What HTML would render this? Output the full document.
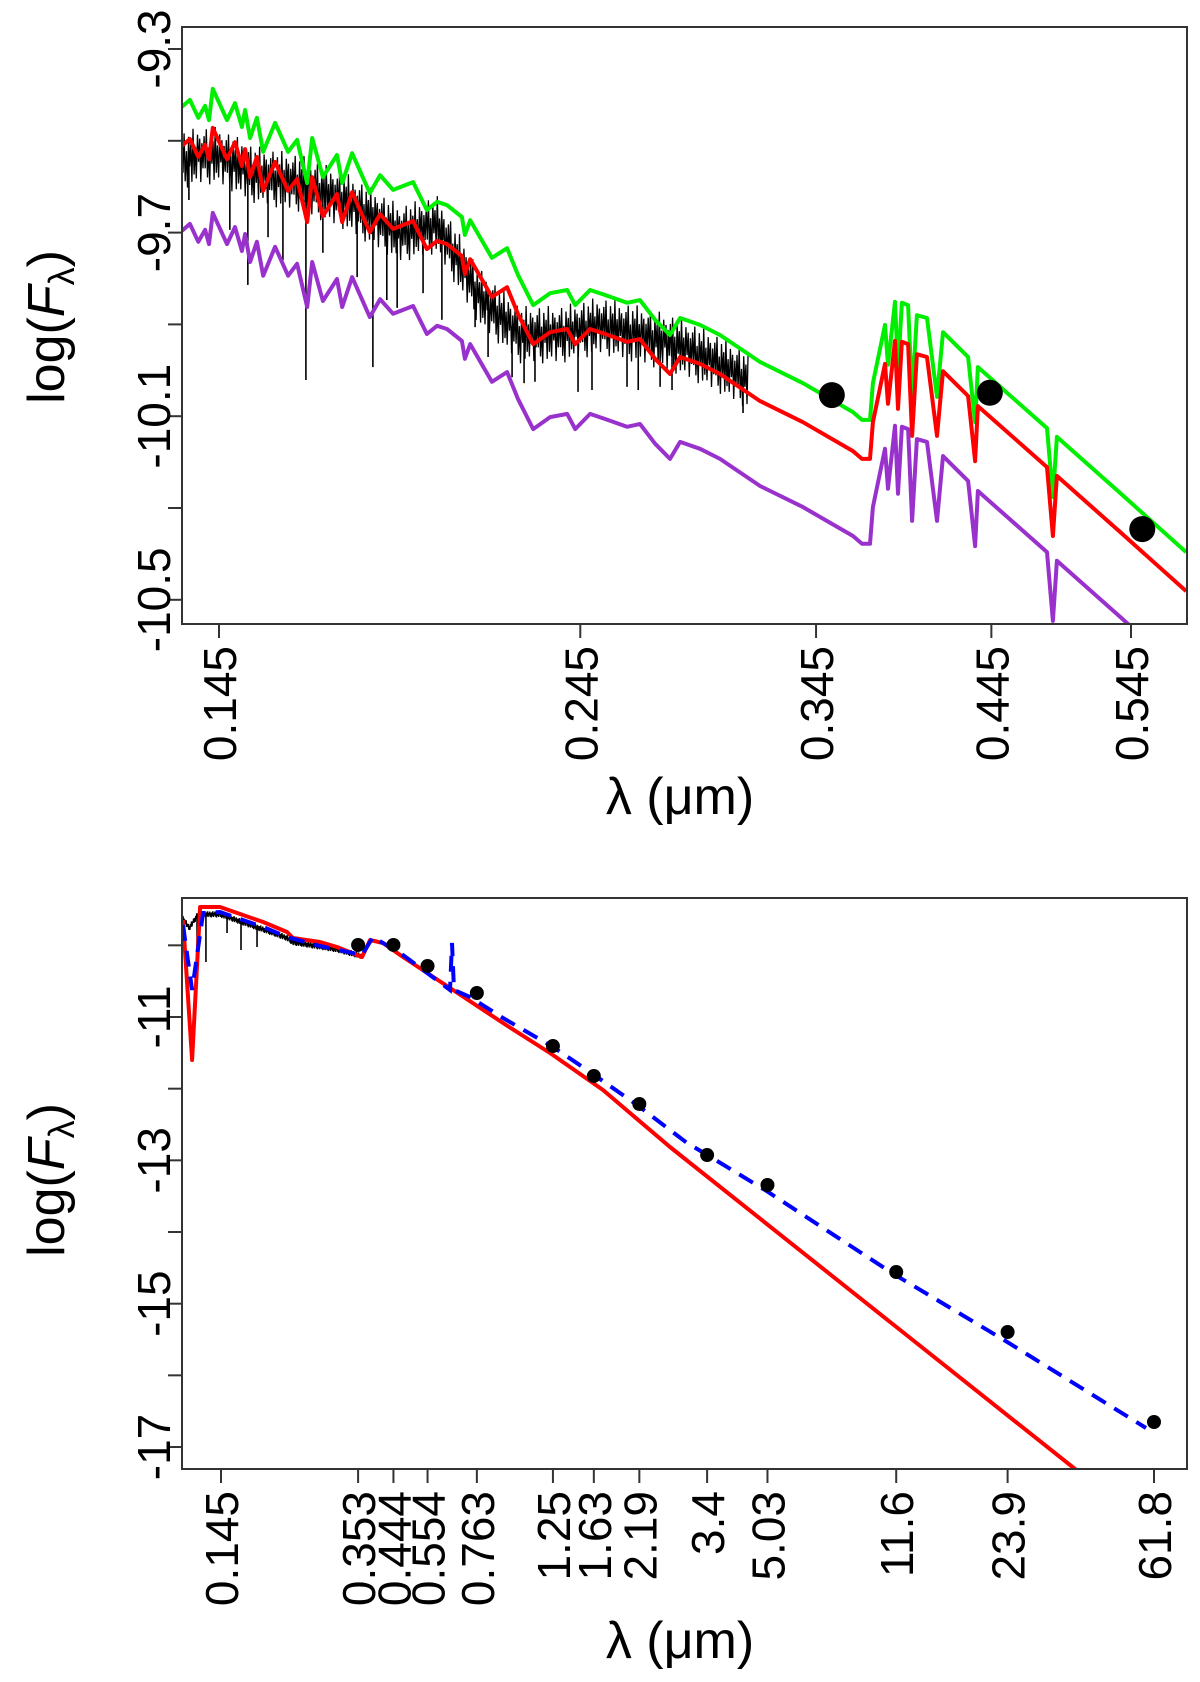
<!DOCTYPE html>
<html><head><meta charset="utf-8"><style>
html,body{margin:0;padding:0;background:#fff;}
svg{display:block;font-family:"Liberation Sans",sans-serif;}
</style></head><body>
<svg id="chart" width="1200" height="1682" viewBox="0 0 1200 1682" xmlns="http://www.w3.org/2000/svg">
<defs>
<clipPath id="clipTop"><rect x="182" y="27" width="1005" height="597"/></clipPath>
<clipPath id="clipBot"><rect x="182" y="898" width="1005" height="571"/></clipPath>
</defs>
<g id="top"></g>
<g id="bot"></g>
</svg>
<script>
// ---------- TOP PANEL DATA ----------
const topModelLam = [0.1374,0.1390,0.1407,0.1421,0.1429,0.1437,0.1467,0.1484,0.1499,0.1506,0.1517,0.1532,0.1546,0.1573,0.1603,0.1624,0.1648,0.1660,0.1686,0.1721,0.1734,0.1759,0.1805,0.1832,0.1867,0.1922,0.1961,0.1990,0.2019,0.2063,0.2072,0.2088,0.2155,0.2203,0.2238,0.2288,0.2345,0.2404,0.2432,0.2485,0.2540,0.2622,0.2672,0.2731,0.2791,0.2832,0.2915,0.3001,0.3181,0.3385,0.3640,0.3688,0.3731,0.3747,0.3813,0.3830,0.3869,0.3886,0.3908,0.3943,0.3966,0.3994,0.4053,0.4112,0.4148,0.4302,0.4346,0.4364,0.4824,0.4866,0.4894,0.5364,0.5904];
const topModelGreen = [-9.426,-9.411,-9.450,-9.424,-9.455,-9.387,-9.455,-9.418,-9.470,-9.433,-9.494,-9.450,-9.524,-9.461,-9.524,-9.498,-9.592,-9.494,-9.579,-9.531,-9.592,-9.527,-9.614,-9.575,-9.607,-9.590,-9.651,-9.633,-9.640,-9.666,-9.705,-9.673,-9.755,-9.734,-9.792,-9.858,-9.832,-9.825,-9.858,-9.825,-9.836,-9.853,-9.847,-9.890,-9.923,-9.886,-9.901,-9.923,-9.982,-10.028,-10.091,-10.108,-10.108,-10.028,-9.901,-9.988,-9.851,-9.999,-9.853,-9.858,-10.058,-9.880,-9.886,-10.058,-9.917,-9.971,-10.113,-9.993,-10.126,-10.276,-10.145,-10.267,-10.396];
const topModelOffsets = [0, -0.085, -0.27];
const topModelColors = ["#00ee00", "#ff0000", "#9932cc"];
const topModelNames = ["model-green", "model-red", "model-purple"];
const topObsLam = [0.1374,0.1411,0.145,0.1523,0.1631,0.1744,0.1886,0.1990,0.2118,0.2245,0.2379,0.2521,0.2672,0.2832,0.2980,0.3126];
const topObsVal = [-9.54,-9.53,-9.53,-9.57,-9.59,-9.63,-9.70,-9.68,-9.84,-9.92,-9.92,-9.90,-9.92,-9.945,-9.98,-10.02];
const topObsNoise = [0.04,-0.03,0.055,-0.05,0.015,-0.065,0.045,-0.02,0.03,-0.055,0.06,-0.04,0.02,-0.05,0.045,-0.015,0.035,-0.06,0.025,-0.03];
const topSpikeLam = [0.1388,0.1473,0.1512,0.1557,0.1591,0.1645,0.1686,0.1772,0.1813,0.1850,0.1878,0.1950,0.2004,0.2103,0.2143,0.2219,0.2258,0.2294,0.2442,0.2492,0.2622,0.2665,0.2751,0.2799,0.3103];
const topSpikeVal = [-9.629,-9.694,-9.814,-9.710,-9.760,-10.021,-9.744,-9.797,-9.993,-9.847,-9.864,-9.832,-9.890,-9.906,-9.971,-10.015,-10.028,-10.025,-10.047,-10.043,-10.036,-10.043,-10.036,-10.043,-10.093];
const topPhotLam = [0.353, 0.444, 0.554];
const topPhotVal = [-10.054, -10.049, -10.346];
const topXTicks = [0.145, 0.245, 0.345, 0.445, 0.545];
const topXTickLabels = ["0.145","0.245","0.345","0.445","0.545"];
const topYTicks = [-9.3,-9.5,-9.7,-9.9,-10.1,-10.3,-10.5];
const topYTickLabels = ["-9.3","","-9.7","","-10.1","","-10.5"];

// ---------- BOTTOM PANEL DATA ----------
const botRedLam = [0.1133,0.1202,0.1266,0.1441,0.1905,0.2225,0.2313,0.2757,0.3078,0.3621,0.3815,0.4150,0.4724,0.6408,0.9042,1.2266,1.730,2.673,37.02,49.56];
const botRedVal = [-9.647,-11.600,-9.465,-9.465,-9.674,-9.814,-9.898,-9.954,-10.023,-10.163,-9.926,-9.967,-10.163,-10.595,-11.084,-11.502,-12.019,-12.814,-17.307,-17.795];
const botBlueLam = [0.1133,0.1202,0.1291,0.1441,0.1905,0.2225,0.2757,0.3621,0.3889,0.4724,0.6408,0.6493,0.6578,0.7298,0.9042,1.2504,1.590,2.158,2.985,3.332,4.951,11.29,23.35,58.69];
const botBlueVal = [-9.716,-10.623,-9.549,-9.535,-9.744,-9.884,-10.009,-10.135,-9.884,-10.135,-10.623,-9.967,-10.623,-10.721,-11.014,-11.419,-11.767,-12.228,-12.758,-12.898,-13.414,-14.572,-15.507,-16.735];
const botObsLam = [0.1133,0.118,0.125,0.1441,0.1905,0.2225,0.2313,0.2757,0.3078,0.36];
const botObsVal = [-9.62,-9.75,-9.56,-9.56,-9.77,-9.89,-9.95,-10.01,-10.05,-10.14];
const botObsNoise = [0.03,-0.04,0.015,-0.05,0.02,-0.03,0.035,-0.045,0.01,-0.02];
const botSpikeLam = [0.1241,0.1315,0.1508,0.1651,0.1832];
const botSpikeVal = [-10.233,-10.233,-9.828,-10.065,-10.023];
const botPhotLam = [0.353,0.444,0.554,0.763,1.25,1.63,2.19,3.4,5.03,11.6,23.9,61.8];
const botPhotVal = [-9.995,-9.995,-10.288,-10.665,-11.405,-11.823,-12.214,-12.926,-13.344,-14.558,-15.395,-16.651];
const botXTicks = [0.145,0.353,0.444,0.554,0.763,1.25,1.63,2.19,3.4,5.03,11.6,23.9,61.8];
const botXTickLabels = ["0.145","0.353","0.444","0.554","0.763","1.25","1.63","2.19","3.4","5.03","11.6","23.9","61.8"];
const botYTicks = [-10,-11,-12,-13,-14,-15,-16,-17];
const botYTickLabels = ["","-11","","-13","","-15","","-17"];

// ---------- AXES ----------
const NS = "http://www.w3.org/2000/svg";
const L145 = Math.log10(0.145);
function xT(l){ return 219 + (Math.log10(l) - L145) * 1586; }
function yT(v){ return 49 + (-9.3 - v) * 459; }
function xB(l){ return 221 + (Math.log10(l) - L145) * 354.8; }
function yB(v){ return 1017 + (-11 - v) * 71.67; }

function mk(tag, attrs, parent){
  const e = document.createElementNS(NS, tag);
  for (const k in attrs) e.setAttribute(k, attrs[k]);
  parent.appendChild(e);
  return e;
}
function interp(lams, vals, l){
  if (l <= lams[0]) return vals[0];
  for (let i=1;i<lams.length;i++){
    if (l <= lams[i]){
      const t = (Math.log(l)-Math.log(lams[i-1]))/(Math.log(lams[i])-Math.log(lams[i-1]));
      return vals[i-1] + t*(vals[i]-vals[i-1]);
    }
  }
  return vals[vals.length-1];
}

function drawFrame(g, box, xTicks, xLabels, xf, yTicks, yLabels, yf, xTitleY, yTitleCY){
  const r = mk('rect', {x:box[0], y:box[1], width:box[2]-box[0], height:box[3]-box[1], fill:'none', stroke:'#333', 'stroke-width':2}, g);
  
  
  xTicks.forEach((t,i)=>{
    const x = xf(t);
    const tk = mk('line', {x1:x, x2:x, y1:box[3], y2:box[3]+14, stroke:'#333', 'stroke-width':2}, g);
    
    
    if (xLabels[i]) {
      const tx = mk('text', {x:0, y:0, 'font-size':46, 'text-anchor':'end', transform:`translate(${x+17},${box[3]+22}) rotate(-90)`}, g);
      tx.textContent = xLabels[i];
      
      
    }
  });
  yTicks.forEach((t,i)=>{
    const y = yf(t);
    const tk = mk('line', {x1:box[0]-14, x2:box[0], y1:y, y2:y, stroke:'#333', 'stroke-width':2}, g);
    
    
    if (yLabels[i]) {
      const tx = mk('text', {x:0, y:0, 'font-size':46, 'text-anchor':'middle', transform:`translate(170,${y}) rotate(-90)`}, g);
      tx.textContent = yLabels[i];
      
      
    }
  });
  const xt = mk('text', {x:680, y:xTitleY, 'font-size':52, 'text-anchor':'middle'}, g);
  xt.textContent = 'λ (μm)';
  
  
  const yt = mk('text', {x:0, y:0, 'font-size':52, 'text-anchor':'middle', transform:`translate(64,${yTitleCY}) rotate(-90)`}, g);
  yt.innerHTML = 'log(<tspan font-style="italic">F</tspan><tspan font-size="36" dy="10">λ</tspan><tspan dy="-10">)</tspan>';
  
  
}

function pathFrom(lams, vals, xf, yf, off){
  return lams.map((l,i)=>(i?'L':'M')+xf(l).toFixed(1)+','+yf(vals[i]+(off||0)).toFixed(1)).join('');
}
function noisyPath(lams, vals, noise, xf, yf, step){
  let d = '', i = 0;
  for (let lg = Math.log10(lams[0]); lg <= Math.log10(lams[lams.length-1]); lg += step, i++){
    const l = Math.pow(10, lg);
    const v = interp(lams, vals, l) + noise[i % noise.length];
    d += (i?'L':'M') + xf(l).toFixed(1) + ',' + yf(v).toFixed(1);
  }
  return d;
}

// ---------- DRAW TOP ----------
const gT = document.getElementById('top');
const cT = mk('g', {'clip-path':'url(#clipTop)'}, gT);


const obsT = mk('path', {d:noisyPath(topObsLam, topObsVal, topObsNoise, xT, yT, 0.0007), fill:'none', stroke:'#000', 'stroke-width':1.3}, cT);


topSpikeLam.forEach((l,i)=>{
  const base = interp(topObsLam, topObsVal, l);
  const s = mk('line', {x1:xT(l), x2:xT(l), y1:yT(base), y2:yT(topSpikeVal[i]), stroke:'#000', 'stroke-width':1.6}, cT);
  
  
});
topModelOffsets.forEach((o,k)=>{
  const p = mk('path', {d:pathFrom(topModelLam, topModelGreen, xT, yT, o), fill:'none', stroke:topModelColors[k], 'stroke-width':4, 'stroke-linejoin':'round'}, cT);
  
  
});
topPhotLam.forEach((l,i)=>{
  const c = mk('circle', {cx:xT(l), cy:yT(topPhotVal[i]), r:13, fill:'#000'}, cT);
  
  
});
drawFrame(gT, [182,27,1187,624], topXTicks, topXTickLabels, xT, topYTicks, topYTickLabels, yT, 814, 327);

// ---------- DRAW BOTTOM ----------
const gB = document.getElementById('bot');
const cB = mk('g', {'clip-path':'url(#clipBot)'}, gB);


const obsB = mk('path', {d:noisyPath(botObsLam, botObsVal, botObsNoise, xB, yB, 0.0015), fill:'none', stroke:'#000', 'stroke-width':1.4}, cB);


botSpikeLam.forEach((l,i)=>{
  const base = interp(botObsLam, botObsVal, l);
  const s = mk('line', {x1:xB(l), x2:xB(l), y1:yB(base), y2:yB(botSpikeVal[i]), stroke:'#000', 'stroke-width':1.6}, cB);
  
  
});
const redB = mk('path', {d:pathFrom(botRedLam, botRedVal, xB, yB), fill:'none', stroke:'#ff0000', 'stroke-width':4, 'stroke-linejoin':'round'}, cB);


const blueB = mk('path', {d:pathFrom(botBlueLam, botBlueVal, xB, yB), fill:'none', stroke:'#0000ff', 'stroke-width':4, 'stroke-dasharray':'16,10'}, cB);


botPhotLam.forEach((l,i)=>{
  const c = mk('circle', {cx:xB(l), cy:yB(botPhotVal[i]), r:7, fill:'#000'}, cB);
  
  
});
drawFrame(gB, [182,898,1187,1469], botXTicks, botXTickLabels, xB, botYTicks, botYTickLabels, yB, 1658, 1180);
</script>
</body></html>
